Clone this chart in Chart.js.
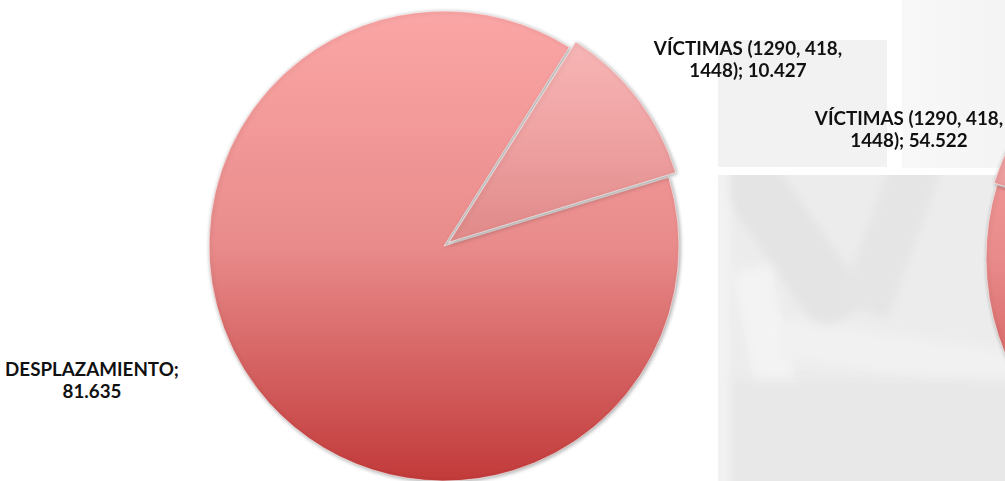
<!DOCTYPE html>
<html>
<head>
<meta charset="utf-8">
<script src="https://cdn.jsdelivr.net/npm/chart.js@4/dist/chart.umd.min.js"></script>
<style>
html, body { margin: 0; padding: 0; background: #fff; width: 1005px; height: 481px; overflow: hidden; position: relative; font-family: Lato, 'Open Sans', sans-serif; }
.bg { position: absolute; }
#photo { left: 718px; top: 175px; width: 287px; height: 306px; background: #ececec; overflow: hidden; }
#photo div { position: absolute; filter: blur(5px); }
canvas { position: absolute; }
.lbl { position: absolute; font-weight: bold; font-size: 18.8px; line-height: 22px; color: #111; text-align: center; white-space: pre; transform: translateX(-50%); }
</style>
</head>
<body>
<div class="bg" style="left:718px;top:40px;width:169px;height:127px;background:#f2f2f2"></div>
<div class="bg" style="left:902px;top:0;width:103px;height:168px;background:linear-gradient(to right,#f8f8f8,#f4f4f4)"></div>
<div class="bg" id="photo">
  <div style="left:40px;top:-40px;width:60px;height:200px;background:#e4e4e4;transform:rotate(-35deg)"></div>
  <div style="left:150px;top:-30px;width:50px;height:170px;background:#e5e5e5;transform:rotate(20deg)"></div>
  <div style="left:40px;top:90px;width:40px;height:260px;background:#f3f3f3;transform:rotate(-12deg)"></div>
  <div style="left:60px;top:160px;width:240px;height:40px;background:#f1f1f1;transform:rotate(8deg)"></div>
  <div style="left:-10px;top:205px;width:307px;height:120px;background:#e8e8e8"></div>
  <div style="left:-6px;top:-10px;width:18px;height:330px;background:#f2f2f2"></div>
</div>

<canvas id="pieA" width="520" height="492" style="left:184px;top:0"></canvas>
<canvas id="pieB" width="540" height="540" style="left:966px;top:-12px"></canvas>

<div class="lbl" id="lblA1" style="left:748px;top:37px"></div>
<div class="lbl" id="lblA0" style="left:92px;top:358px"></div>
<div class="lbl" id="lblB1" style="left:909px;top:107px"></div>

<script>
// chart 1
const categories = ['DESPLAZAMIENTO', 'VÍCTIMAS (1290, 418, 1448)'];
const values = [81635, 10427];
// chart 2 (only its edge is visible; first value is an estimate)
const categories2 = ['DESPLAZAMIENTO', 'VÍCTIMAS (1290, 418, 1448)'];
const values2 = [436000, 54522];

// number like 81.635 (es)
function fmt(v) {
    return String(v).replace(/\B(?=(\d{3})+(?!\d))/g, '.');
}

// word wrap by characters, like the Excel data label box
function wrap(text, maxChars) {
    const words = text.split(' ');
    const lines = [];
    let cur = '';
    words.forEach(w => {
        if (cur && (cur + ' ' + w).length > maxChars) {
            lines.push(cur);
            cur = w;
        } else {
            cur = cur ? cur + ' ' + w : w;
        }
    });
    if (cur) lines.push(cur);
    return lines.join('\n');
}

document.getElementById('lblA0').textContent = wrap(categories[0] + '; ' + fmt(values[0]), 21);
document.getElementById('lblA1').textContent = wrap(categories[1] + '; ' + fmt(values[1]), 21);
document.getElementById('lblB1').textContent = wrap(categories2[1] + '; ' + fmt(values2[1]), 21);

const fills = [
    ['#fba6a6', '#e98b8b', '#c23a3a'],
    ['#f8b8b8', '#f0a4a4', '#e28c8c']
];

// each slice gets its own top-to-bottom gradient (needs arc props -> second update)
function sliceFill(c) {
    const ch = c.chart;
    const arc = c.element;
    const s = fills[c.dataIndex];
    if (!arc || !arc.outerRadius) return s[1];
    const p = arc.getProps(['x', 'y', 'startAngle', 'endAngle', 'outerRadius'], true);
    let top = p.y, bot = p.y;
    for (let i = 0; i <= 24; i++) {
        const a = p.startAngle + (p.endAngle - p.startAngle) * i / 24;
        const y = p.y + Math.sin(a) * p.outerRadius;
        top = Math.min(top, y);
        bot = Math.max(bot, y);
    }
    const off = c.dataset.offset[c.dataIndex] || 0;
    const mid = (p.startAngle + p.endAngle) / 2;
    top += Math.sin(mid) * off;
    bot += Math.sin(mid) * off;
    const g = ch.ctx.createLinearGradient(0, top, 0, bot);
    g.addColorStop(0, s[0]);
    g.addColorStop(0.5, s[1]);
    g.addColorStop(1, s[2]);
    return g;
}

const bevel = {
    id: 'bevel',
    beforeDatasetsDraw(chart) {
        const c = chart.ctx;
        c.save();
        c.shadowColor = 'rgba(0,0,0,0.35)';
        c.shadowBlur = 4;
        c.shadowOffsetX = 1;
        c.shadowOffsetY = 1;
    },
    afterDatasetsDraw(chart) {
        chart.ctx.restore();
    }
};

function makePie(id, labels, data, rotation, offsets, radius) {
    const ch = new Chart(document.getElementById(id).getContext('2d'), {
        type: 'pie',
        data: {
            labels: labels,
            datasets: [{
                data: data,
                backgroundColor: sliceFill,
                borderColor: 'rgba(255,255,255,0.55)',
                borderWidth: 1,
                offset: offsets
            }]
        },
        options: {
            responsive: false,
            animation: false,
            devicePixelRatio: 1,
            rotation: rotation,
            radius: radius,
            layout: { padding: 0 },
            plugins: {
                legend: { display: false },
                tooltip: { enabled: false }
            }
        },
        plugins: [bevel]
    });
    ch.update();
    return ch;
}

const pieA = makePie('pieA', categories, values, 73, [0, 25], 235);
const pieB = makePie('pieB', categories2, values2, 327, [0, 10], 250);
</script>
</body>
</html>
